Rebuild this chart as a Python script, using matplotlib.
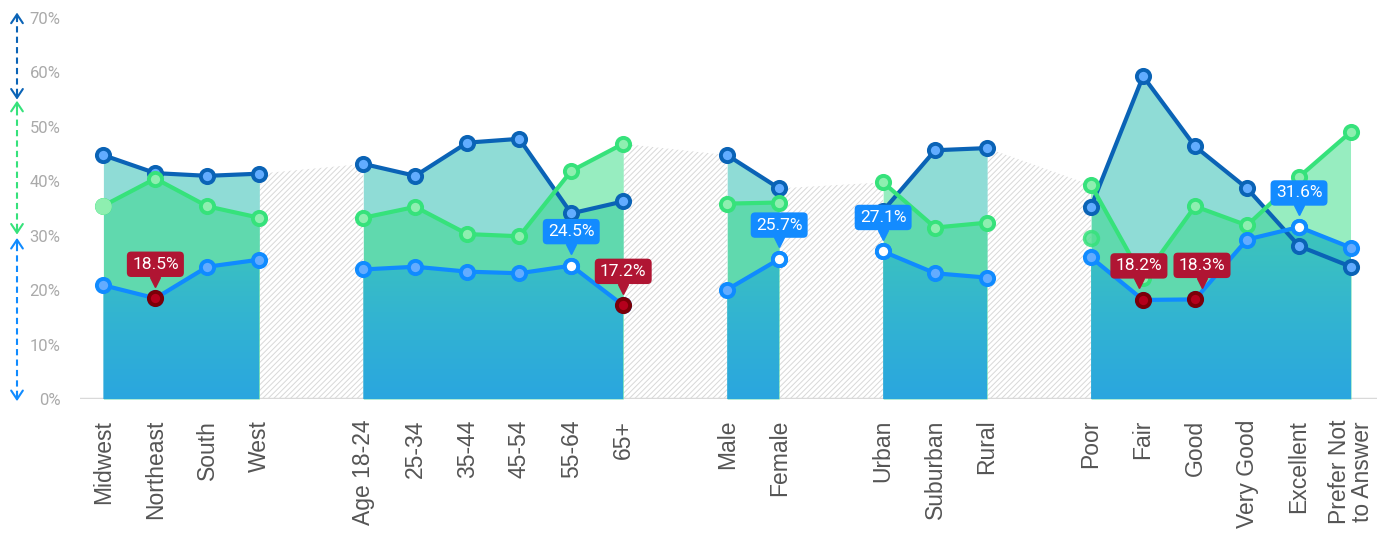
import matplotlib.pyplot as plt
import numpy as np
from matplotlib.colors import LinearSegmentedColormap
from matplotlib.transforms import offset_copy

# categories, one list per group
groups = [
    ["Midwest", "Northeast", "South", "West"],
    ["Age 18-24", "25-34", "35-44", "45-54", "55-64", "65+"],
    ["Male", "Female"],
    ["Urban", "Suburban", "Rural"],
    ["Poor", "Fair", "Good", "Very Good", "Excellent", "Prefer Not\nto Answer"],
]

# series values (%), flat over all categories
dark = [44.8, 41.5, 41.0, 41.4, 43.2, 41.0, 47.1, 47.8, 34.1, 36.3, 44.8,
        38.7, 34.6, 45.7, 46.1, 35.3, 59.3, 46.4, 38.7, 28.1, 24.3]
green = [35.5, 40.5, 35.4, 33.3, 33.3, 35.3, 30.3, 29.9, 41.9, 46.9, 35.9,
         36.1, 39.8, 31.5, 32.4, 39.3, 22.2, 35.4, 31.9, 40.8, 49.1]
light = [20.9, 18.5, 24.3, 25.6, 23.8, 24.3, 23.4, 23.1, 24.5, 17.2, 20.1,
         25.7, 27.1, 23.1, 22.3, 26.0, 18.2, 18.3, 29.3, 31.6, 27.8]

# highlighted points: (flat index, label)
high_points = [(8, "24.5%"), (11, "25.7%"), (12, "27.1%"), (19, "31.6%")]
low_points = [(1, "18.5%"), (9, "17.2%"), (16, "18.2%"), (17, "18.3%")]

# stray green marker seen at "Poor"
extra_green = (15, 29.5)

yticks = [0, 10, 20, 30, 40, 50, 60, 70]

DARK = "#0a63b6"
GREEN = "#36e27b"
LIGHT = "#108bff"
DARK_FACE = "#62acff"
GREEN_FACE = "#8eefb0"
LIGHT_FACE = "#64acff"
TEAL_FILL = "#8fdcd6"
GREEN_FILL = "#97edc0"
MID_FILL = "#60d9ae"
RED = "#b01533"
BLUE_TAG = "#138bff"

# tags pushed sideways so they don't touch (points)
tag_nudge = {16: -3, 17: 5}

plt.rcParams["hatch.linewidth"] = 0.7

dark = np.array(dark)
green = np.array(green)
light = np.array(light)

positions = []
slices = []
start = 0
flat = 0
for g in groups:
    positions.append(np.arange(start, start + len(g)))
    slices.append(slice(flat, flat + len(g)))
    start += len(g) + 1
    flat += len(g)
xpos = np.concatenate(positions)
labels = [c for g in groups for c in g]

fig = plt.figure(figsize=(13.87, 5.33), dpi=100)
ax = fig.add_axes([80 / 1387, 134 / 533, 1297 / 1387, 381 / 533])

grad_cmap = LinearSegmentedColormap.from_list("g", ["#2aa6df", "#33b5d0", "#3ec6ba"])
top = np.maximum(np.maximum(dark, green), light)

# hatched gaps between groups
for a, b in zip(slices[:-1], slices[1:]):
    x0, x1 = xpos[a.stop - 1], xpos[b.start]
    ax.fill_between([x0, x1], 0, [top[a.stop - 1], top[b.start]],
                    facecolor="white", edgecolor="#d8d8d8", hatch="//////",
                    lw=0, zorder=0.5)

for xs, sl in zip(positions, slices):
    xx = np.linspace(xs[0], xs[-1], 600)
    d = np.interp(xx, xs, dark[sl])
    g = np.interp(xx, xs, green[sl])
    lo = np.minimum(d, g)
    ax.fill_between(xx, lo, d, where=d >= g, color=TEAL_FILL, lw=0, zorder=1)
    ax.fill_between(xx, lo, g, where=g >= d, color=GREEN_FILL, lw=0, zorder=1)
    ax.fill_between(xx, 0, lo, color=MID_FILL, lw=0, zorder=1.1)
    poly = ax.fill_between(xs, 0, light[sl], facecolor="none", lw=0)
    im = ax.imshow(np.linspace(0, 1, 200).reshape(-1, 1), cmap=grad_cmap,
                   extent=[xs[0], xs[-1], 0, 32], origin="lower",
                   aspect="auto", zorder=1.2)
    im.set_clip_path(poly.get_paths()[0], transform=ax.transData)

    for vals, lc, fc, z in ((dark, DARK, DARK_FACE, 3), (green, GREEN, GREEN_FACE, 4),
                            (light, LIGHT, LIGHT_FACE, 5)):
        ax.plot(xs, vals[sl], color=lc, lw=3, marker="o", ms=9.5, mfc=fc,
                mec=lc, mew=2.8, zorder=z, solid_capstyle="round")

# faded green markers
ax.plot(xpos[0], green[0], "o", ms=11, mfc=GREEN_FACE, mec=GREEN_FACE, zorder=4.5)
ax.plot(xpos[extra_green[0]], extra_green[1], "o", ms=10, mfc="#56df95",
        mec=GREEN, mew=2.5, alpha=0.85, zorder=4.5)

for idx, txt in high_points + low_points:
    is_high = (idx, txt) in high_points
    col = BLUE_TAG if is_high else RED
    x, v = xpos[idx], light[idx]
    dx = tag_nudge.get(idx, 0)
    if is_high:
        ax.plot(x, v, "o", ms=9.5, mfc="white", mec=LIGHT, mew=2.8, zorder=6)
    else:
        ax.plot(x, v, "o", ms=9.5, mfc="#b5001c", mec="#7a0008", mew=2.8, zorder=6)
    tip = offset_copy(ax.transData, fig=fig, x=dx, y=12, units="points")
    ax.plot(x, v, marker="v", ms=7.5, color=col, transform=tip, zorder=10)
    ax.annotate(txt, (x, v), xytext=(dx, 24.5), textcoords="offset points",
                ha="center", va="center", color="white", fontsize=12.5,
                family="Roboto", zorder=11,
                bbox=dict(boxstyle="round,pad=0.3,rounding_size=0.25", fc=col, ec="none"))

# baseline
ax.axhline(0, color="#d9d9d9", lw=2.5, zorder=0.8)

# range arrows on the left
trans = ax.get_yaxis_transform()
ax_x = (17 - 80) / 1297
for lo_v, hi_v, col in ((55, 71, DARK), (30.2, 54.8, GREEN), (-0.4, 29.6, LIGHT)):
    ax.plot([ax_x, ax_x], [lo_v + 0.8, hi_v - 0.8], color=col, lw=1.5,
            ls=(0, (3, 2)), transform=trans, clip_on=False)
    for a_end, b_end in ((hi_v, hi_v - 1.5), (lo_v, lo_v + 1.5)):
        ax.annotate("", xy=(ax_x, a_end), xytext=(ax_x, b_end), xycoords=trans,
                    textcoords=trans,
                    arrowprops=dict(arrowstyle="->,head_length=0.45,head_width=0.3",
                                    color=col, lw=1.5, shrinkA=0, shrinkB=0,
                                    mutation_scale=14),
                    annotation_clip=False)

ax.set_xlim(-0.45, xpos[-1] + 0.5)
ax.set_ylim(0, 70)
ax.set_yticks(yticks)
ax.set_yticklabels([f"{t}%" for t in yticks], color="#aaaaaa", fontsize=12,
                   family="Roboto")
ax.set_xticks(xpos)
ax.set_xticklabels(labels, rotation=90, color="#555555", fontsize=16.5,
                   family="Liberation Sans", linespacing=0.95)
ax.tick_params(axis="y", length=0, pad=14)
ax.tick_params(axis="x", length=0, pad=15)
for s in ax.spines.values():
    s.set_visible(False)

fig.savefig("out.png", dpi=100)
